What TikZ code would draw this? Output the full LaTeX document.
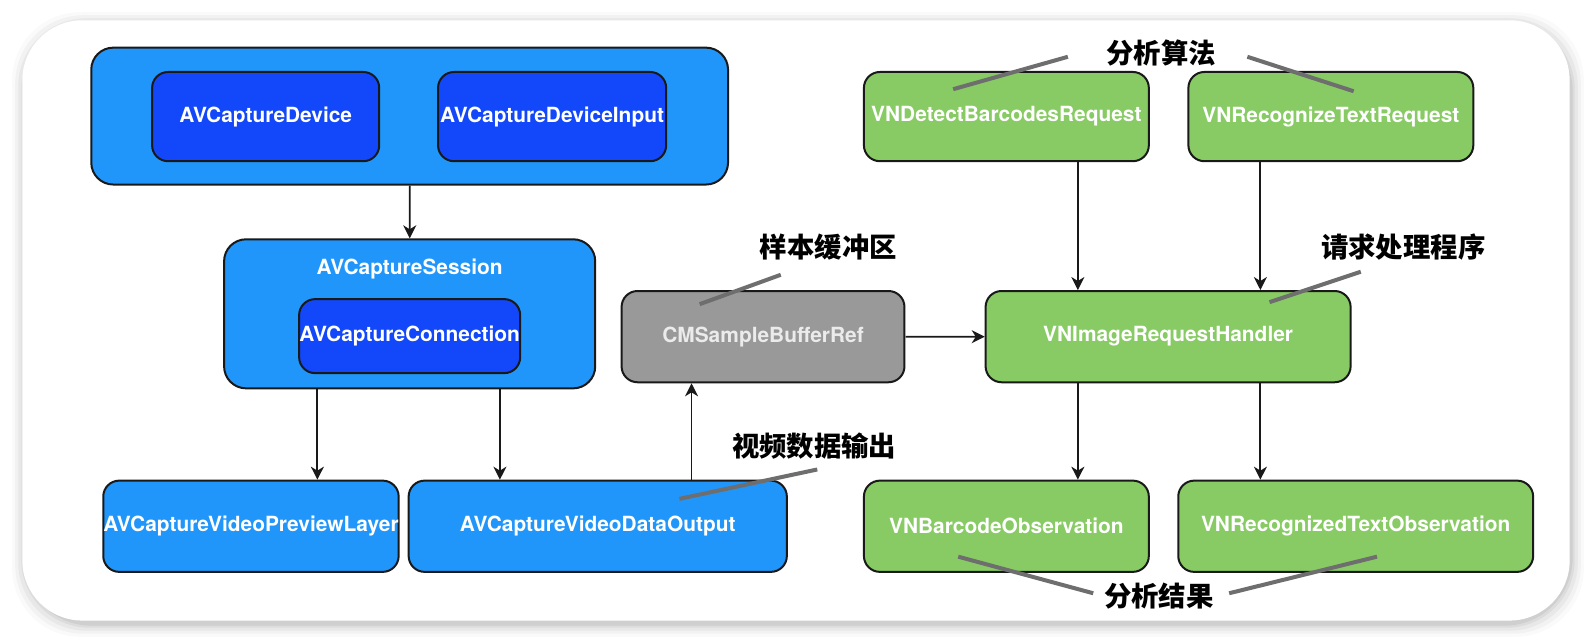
\documentclass[tikz,border=0pt]{standalone}
\usepackage{fontspec}
\usetikzlibrary{arrows.meta}
\setmainfont{TeX Gyre Heros}
\newfontfamily\cjk{Noto Sans CJK SC}
\definecolor{lightblue}{RGB}{33,150,250}
\definecolor{darkblue}{RGB}{18,72,250}
\definecolor{vngreen}{RGB}{136,203,100}
\definecolor{buffergray}{RGB}{153,153,153}
\definecolor{notegray}{RGB}{110,110,110}
\tikzset{
  box/.style={draw=black!90, line width=1pt, rounded corners=8pt, text=white,
    font=\bfseries\fontsize{10.3}{12}\selectfont, inner sep=0pt},
  groupbox/.style={box, fill=lightblue, rounded corners=11pt},
  avbox/.style={box, fill=lightblue},
  devbox/.style={box, fill=darkblue},
  vnbox/.style={box, fill=vngreen},
  bufbox/.style={box, fill=buffergray, text=white!92!black},
  note/.style={font=\cjk\bfseries\fontsize{13.5}{15}\selectfont, inner sep=0pt},
  noteline/.style={notegray, line width=2pt},
  arrow/.style={-{Stealth[length=6.5pt,width=6.5pt,inset=2pt]}, line width=0.9pt, black!90}
}
\begin{document}
\begin{tikzpicture}[x=0.5pt, y=-0.5pt, scale=1.014, every node/.append style={transform shape}]
\useasboundingbox (0,0) rectangle (1574,633);
\fill[white] (0,0) rectangle (1574,633);
% frame with shadow
\foreach \s/\o in {14/0.02, 11/0.03, 8/0.04, 5/0.05, 3/0.06}
  \fill[black, opacity=\o, rounded corners=34pt] (22-\s+4,20-\s+6) rectangle (1548+\s,612+\s+2);
\fill[white, rounded corners=30pt] (22,20) rectangle (1548,612);

% capture side
\node[groupbox, minimum width=314pt, minimum height=67.5pt] (input) at (404,114.5) {};
\node[devbox, minimum width=112pt, minimum height=44pt] (device) at (262,115) {AVCaptureDevice};
\node[devbox, minimum width=112.5pt, minimum height=44pt] (deviceinput) at (544.5,115) {AVCaptureDeviceInput};
\node[groupbox, minimum width=183pt, minimum height=73.5pt] (session) at (404,309.5) {};
\node[font=\bfseries\fontsize{10.3}{12}\selectfont, text=white] (sessiontitle) at (404,265) {AVCaptureSession};
\node[devbox, minimum width=109pt, minimum height=36.5pt] (connection) at (404,331.5) {AVCaptureConnection};
\node[avbox, minimum width=144.5pt, minimum height=45pt] (preview) at (247.5,519) {AVCaptureVideoPreviewLayer};
\node[avbox, minimum width=186.5pt, minimum height=45pt] (dataoutput) at (589.5,519) {AVCaptureVideoDataOutput};
\node[bufbox, minimum width=139.5pt, minimum height=45pt] (buffer) at (752.5,332) {CMSampleBufferRef};

% vision side
\node[vnbox, minimum width=140.5pt, minimum height=44pt] (barcodereq) at (992.5,115) {VNDetectBarcodesRequest};
\node[vnbox, minimum width=140.5pt, minimum height=44pt] (textreq) at (1312.5,115) {VNRecognizeTextRequest};
\node[vnbox, minimum width=180pt, minimum height=45pt] (handler) at (1152,332) {VNImageRequestHandler};
\node[vnbox, minimum width=140.5pt, minimum height=45pt] (barcodeobs) at (992.5,519) {VNBarcodeObservation};
\node[vnbox, minimum width=175pt, minimum height=45pt] (textobs) at (1337,519) {VNRecognizedTextObservation};

% arrows
\draw[arrow] (input) -- (session);
\draw[arrow] (session.south -| 313,0) -- (preview.north -| 313,0);
\draw[arrow] (session.south -| 493,0) -- (dataoutput.north -| 493,0);
\draw[arrow] (dataoutput.north -| 682,0) -- (buffer.south -| 682,0);
\draw[arrow] (buffer) -- (handler);
\draw[arrow] (barcodereq.south -| 1063,0) -- (handler.north -| 1063,0);
\draw[arrow] (textreq.south -| 1243,0) -- (handler.north -| 1243,0);
\draw[arrow] (handler.south -| 1063,0) -- (barcodeobs.north -| 1063,0);
\draw[arrow] (handler.south -| 1243,0) -- (textobs.north -| 1243,0);

% notes
\node[note] (algo) at (1145,52) {分析算法};
\node[note] (sample) at (817,244) {样本缓冲区};
\node[note] (video) at (803,440) {视频数据输出};
\node[note] (reqhandler) at (1384,244) {请求处理程序};
\node[note] (result) at (1143,588) {分析结果};
\coordinate (algoL) at (1053,56);
\coordinate (algoR) at (1230,56);
\coordinate (resultL) at (1078,585);
\coordinate (resultR) at (1212,585);
\draw[noteline] (algoL) -- (940,88);
\draw[noteline] (algoR) -- (1335,90);
\draw[noteline] (690,300) -- (770,271);
\draw[noteline] (670,492) -- (806,463);
\draw[noteline] (1252,298) -- (1342,268);
\draw[noteline] (resultL) -- (945,549);
\draw[noteline] (resultR) -- (1358,549);
\end{tikzpicture}
\end{document}
